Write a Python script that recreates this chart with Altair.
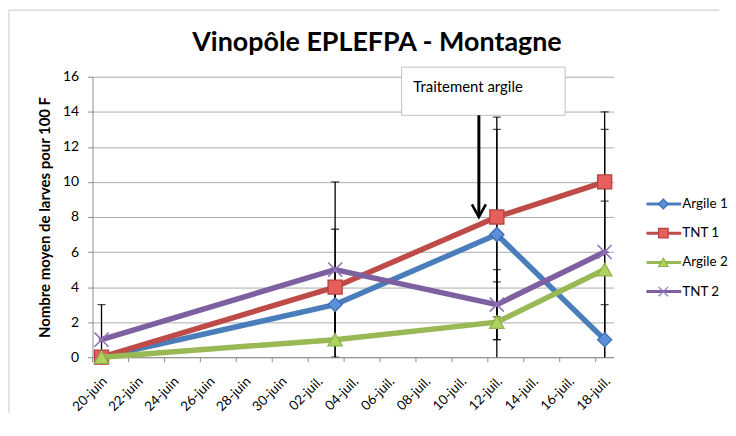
import altair as alt
import pandas as pd

# ---------------- data ----------------
title_text = "Vinopôle EPLEFPA - Montagne"
y_title = "Nombre moyen de larves pour 100 F"
series = ["Argile 1", "TNT 1", "Argile 2", "TNT 2"]
days = [0, 13, 22, 28]                      # days after 20-juin
argile1 = [0, 3, 7, 1]
tnt1 = [0, 4, 8, 10]
argile2 = [0, 1, 2, 5]
tnt2 = [1, 5, 3, 6]
err_argile1 = [0, 2, 6, 2]
err_tnt1 = [0, 3.3, 5.7, 4]
err_argile2 = [0, 3, 2.3, 3.9]
err_tnt2 = [2, 5, 2, 7]
tick_days = [0, 2, 4, 6, 8, 10, 12, 14, 16, 18, 20, 22, 24, 26, 28]
tick_labels = ["20-juin", "22-juin", "24-juin", "26-juin", "28-juin", "30-juin",
               "02-juil.", "04-juil.", "06-juil.", "08-juil.", "10-juil.",
               "12-juil.", "14-juil.", "16-juil.", "18-juil."]
y_ticks = [0, 2, 4, 6, 8, 10, 12, 14, 16]
annotation_text = "Traitement argile"
box_days = [16.7, 25.8]
box_vals = [13.8, 16.55]
annotation_pos = [17.35, 15.15]
arrow_day = 21
arrow_top = 13.8
arrow_tip = 8.0

# ---------------- styles ----------------
W, H = 524, 282
line_colors = ["#4A7EBB", "#BE4B48", "#98B954", "#7D60A0"]
marker_shapes = ["diamond", "square", "triangle-up", "M-1,-1L1,1M-1,1L1,-1"]
marker_fills = ["#5B8FDA", "#E5605C", "#B0D35F", "transparent"]
marker_strokes = ["#3C6DB0", "#B5423F", "#8FB24A", "#8F73BA"]
marker_sizes = [200, 200, 210, 200]
legend_sizes = [95, 90, 105, 100]
grid_color = "#ABABAB"
axis_color = "#8C8C8C"
FONT = "Lato"

values = [argile1, tnt1, argile2, tnt2]
errors = [err_argile1, err_tnt1, err_argile2, err_tnt2]

rows = []
for s, vals, errs in zip(series, values, errors):
    for d, v, e in zip(days, vals, errs):
        rows.append({"series": s, "day": d, "value": v, "err": e,
                     "lo": v - e, "hi": v + e})
df = pd.DataFrame(rows)
err_df = df[df["err"] > 0]
caps_df = pd.concat([
    err_df[["series", "day"]].assign(cap=err_df["lo"]),
    err_df[["series", "day"]].assign(cap=err_df["hi"]),
])

label_js = "[" + ",".join("'" + t + "'" for t in tick_labels) + "]"
x_scale = alt.Scale(domain=[tick_days[0] - 0.5, tick_days[-1] + 0.5], nice=False, zero=False)
y_scale = alt.Scale(domain=[y_ticks[0], y_ticks[-1]], nice=False, zero=False)

x_axis = alt.Axis(values=tick_days, labelExpr=label_js + "[datum.value / 2]",
                  labelAngle=-45, labelAlign="right", labelBaseline="top",
                  labelOverlap=False, ticks=False, tickSize=0, grid=False,
                  domainColor=axis_color, labelFont=FONT, labelFontSize=13.5,
                  labelColor="black", labelPadding=17, labelOffset=-2, title=None)
y_axis = alt.Axis(values=y_ticks, grid=True, gridColor=grid_color, gridWidth=1,
                  domainColor=axis_color, tickColor=axis_color, tickSize=5,
                  labelFont=FONT, labelFontSize=14, labelColor="black",
                  labelPadding=9, title=y_title, titleFont=FONT,
                  titleFontSize=15, titleFontWeight="bold", titleColor="black",
                  titlePadding=10)


def X(field="day"):
    return alt.X(f"{field}:Q", scale=x_scale, axis=x_axis)


def Y(field="value"):
    return alt.Y(f"{field}:Q", scale=y_scale, axis=y_axis)


one = pd.DataFrame({"k": [0]})
box_df = pd.DataFrame({"x0": [box_days[0]], "x1": [box_days[1]],
                       "y0": [box_vals[0]], "y1": [box_vals[1]],
                       "tx": [annotation_pos[0]], "ty": [annotation_pos[1]],
                       "label": [annotation_text]})
arrow_df = pd.DataFrame({"day": [arrow_day], "top": [arrow_top], "tip": [arrow_tip],
                         "shaft_end": [arrow_tip + 0.15]})
xticks_df = pd.DataFrame({"day": [d - 0.5 for d in tick_days]})

layers = []
# outer frame (top and left edges)
layers.append(alt.Chart(one).mark_rule(color="#C8C8C8", strokeWidth=1).encode(
    x=alt.value(-84), x2=alt.value(630), y=alt.value(-67)))
layers.append(alt.Chart(one).mark_rule(color="#C8C8C8", strokeWidth=1).encode(
    x=alt.value(-84), y=alt.value(-67), y2=alt.value(338)))
# title
layers.append(alt.Chart(one).mark_text(text=title_text, font=FONT, fontSize=27,
                                       fontWeight="bold", color="black",
                                       align="center", baseline="alphabetic").encode(
    x=alt.value(286), y=alt.value(-26)))
# x-axis tick marks between dates
layers.append(alt.Chart(xticks_df).mark_rule(color=axis_color, strokeWidth=1).encode(
    x=X(), y=alt.value(H), y2=alt.value(H + 5)))
# error bars
layers.append(alt.Chart(err_df).mark_rule(color="black", strokeWidth=1.3, clip=True).encode(
    x=X(), y=Y("lo"), y2="hi:Q"))
layers.append(alt.Chart(caps_df).mark_tick(color="black", orient="horizontal", size=8,
                                           thickness=1.3, clip=True).encode(
    x=X(), y=Y("cap")))
# series lines and markers, drawn in series order
for i, s in enumerate(series):
    sdf = df[df["series"] == s]
    layers.append(alt.Chart(sdf).mark_line(color=line_colors[i], strokeWidth=5.5,
                                           strokeJoin="round", strokeCap="round").encode(
        x=X(), y=Y(), order="day:Q"))
    layers.append(alt.Chart(sdf).mark_point(shape=marker_shapes[i], filled=True,
                                            fill=marker_fills[i], stroke=marker_strokes[i],
                                            strokeWidth=1.3 if i < 3 else 1.6,
                                            size=marker_sizes[i], opacity=1).encode(
        x=X(), y=Y()))
# annotation box
layers.append(alt.Chart(box_df).mark_rect(fill="white", stroke="#BFBFBF", strokeWidth=1,
                                          clip=False).encode(
    x=X("x0"), x2="x1:Q", y=Y("y0"), y2="y1:Q"))
layers.append(alt.Chart(box_df).mark_text(font=FONT, fontSize=15, color="black",
                                          align="left", baseline="alphabetic").encode(
    x=X("tx"), y=Y("ty"), text="label:N"))
# arrow
layers.append(alt.Chart(arrow_df).mark_rule(color="black", strokeWidth=3).encode(
    x=X(), y=Y("top"), y2="shaft_end:Q"))
layers.append(alt.Chart(arrow_df).mark_point(shape="M-1,-1.8L0,0L1,-1.8", filled=False,
                                             stroke="black", strokeWidth=2.6, size=196,
                                             opacity=1).encode(
    x=X(), y=Y("tip")))

main = alt.layer(*layers).properties(width=W, height=H)

# ---------------- legend panel ----------------
leg_df = pd.DataFrame({"series": series})
leg_y = alt.Y("series:N", scale=alt.Scale(type="point", domain=series, range=[128, 216],
                                          padding=0), axis=None)
col = alt.Color("series:N", scale=alt.Scale(domain=series, range=line_colors), legend=None)
leg_line = alt.Chart(leg_df).mark_rule(strokeWidth=3).encode(
    x=alt.value(0), x2=alt.value(35), y=leg_y, color=col)
leg_pts = alt.Chart(leg_df).mark_point(filled=True, opacity=1, strokeWidth=1.2).encode(
    x=alt.value(17), y=leg_y,
    shape=alt.Shape("series:N", scale=alt.Scale(domain=series, range=marker_shapes), legend=None),
    fill=alt.Fill("series:N", scale=alt.Scale(domain=series, range=marker_fills), legend=None),
    stroke=alt.Stroke("series:N", scale=alt.Scale(domain=series, range=marker_strokes), legend=None),
    size=alt.Size("series:N", scale=alt.Scale(domain=series, range=legend_sizes), legend=None))
leg_txt = alt.Chart(leg_df).mark_text(font=FONT, fontSize=13.5, color="black", align="left",
                                      baseline="middle").encode(
    x=alt.value(36), y=leg_y, text="series:N")
legend = alt.layer(leg_line, leg_pts, leg_txt).properties(width=76, height=H)

chart = alt.hconcat(main, legend, spacing=33, bounds="flush").properties(
    padding={"left": 0, "top": 0, "right": 0, "bottom": 0}, background="white"
).configure_view(stroke=None)

chart.save("out.html", embed_options={"renderer": "svg", "actions": False})
